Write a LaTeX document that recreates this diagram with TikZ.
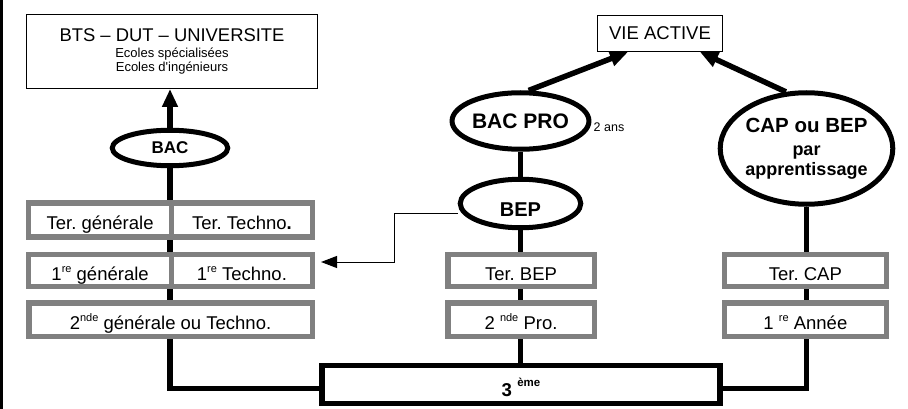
\documentclass[tikz,border=0pt]{standalone}
\usepackage{fontspec}
\setmainfont{Liberation Sans}
\usetikzlibrary{shapes.geometric,arrows.meta,calc}
\definecolor{boxgray}{RGB}{128,128,128}
\pgfdeclarelayer{bg}
\pgfsetlayers{bg,main}
\frenchspacing
\newcommand\supx[2][7.5pt]{\raisebox{#1}{\fontsize{11}{11}\selectfont #2}}
\tikzset{
  grayb/.style={draw=boxgray, line width=5.5pt, fill=white, inner sep=0pt,
    text height=19pt, text depth=0pt, font=\fontsize{18.5}{20}\selectfont},
  ovalb/.style={ellipse, draw, line width=5pt, fill=white, inner sep=0pt,
    font=\bfseries\fontsize{20}{22}\selectfont},
  thinb/.style={draw, line width=1pt, fill=white, inner sep=0pt},
  conn/.style={line width=5.5pt},
  bigarrow/.style={line width=5.5pt, -{Triangle[length=18pt,width=15pt]}},
  smallarrow/.style={line width=1pt, -{Triangle[length=16pt,width=12pt]}},
}
\begin{document}
\begin{tikzpicture}[x=1pt,y=-1pt]
\useasboundingbox (0,0) rectangle (908,409);
\draw[line width=3pt] (1.5,0) -- (1.5,409);

\node[thinb, minimum width=291pt, minimum height=74pt, align=center,
  font=\fontsize{13}{14}\selectfont] (bts) at (172,51.5)
  {{\fontsize{18.4}{20}\selectfont BTS – DUT – UNIVERSITE}\\[2pt]
   Ecoles spécialisées\\ Ecoles d\textquotesingle ingénieurs};
\node[thinb, minimum width=125pt, minimum height=36pt,
  font=\fontsize{18.5}{20}\selectfont] (vie) at (660,33.5) {VIE ACTIVE};

\node[ovalb, minimum width=115.5pt, minimum height=35.5pt,
  font=\bfseries\fontsize{17}{20}\selectfont] (bac) at (170,148) {BAC};
\node[ovalb, minimum width=120.5pt, minimum height=56.5pt,
  font=\bfseries\fontsize{21}{24}\selectfont] (bacpro) at (520.5,121) {BAC PRO};
\node[ovalb, minimum width=120.5pt, minimum height=48.5pt,
  text height=26.4pt, text depth=0pt] (bep) at (520.5,203.5) {BEP};
\node[ovalb, minimum width=156.5pt, minimum height=111.5pt, align=center,
  font=\bfseries\fontsize{18}{20}\selectfont] (cap) at (806.5,148.5)
  {{\fontsize{20.5}{23}\selectfont CAP ou BEP}\\[3pt] par\\ apprentissage};
\node[inner sep=0pt, font=\fontsize{12.5}{14}\selectfont] (ans) at (609,127) {2 ans};

\node[grayb, minimum width=142.75pt, minimum height=34pt] (terg) at (100.1,220) {Ter. générale};
\node[grayb, minimum width=140.75pt, minimum height=34pt] (tert) at (241.9,220) {Ter. Techno\textbf{.}};
\node[grayb, minimum width=142.75pt, minimum height=32pt] (premg) at (100.1,270.5) {1\supx{re} générale};
\node[grayb, minimum width=140.75pt, minimum height=32pt] (premt) at (241.9,270.5) {1\supx{re} Techno.};
\node[grayb, minimum width=283.5pt, minimum height=33.5pt] (sec) at (170.5,319.6) {2\supx{nde} générale ou Techno.};
\node[grayb, minimum width=146.5pt, minimum height=32pt] (terbep) at (521,270.5) {Ter. BEP};
\node[grayb, minimum width=146.5pt, minimum height=33.5pt] (secpro) at (521,319.6) {2 \supx{nde} Pro.};
\node[grayb, minimum width=161.75pt, minimum height=32pt] (tercap) at (805.4,270.5) {Ter. CAP};
\node[grayb, minimum width=161.75pt, minimum height=33.5pt] (annee) at (805.4,319.6) {1 \supx{re} Année};

\node[draw, line width=5.5pt, fill=white, minimum width=398pt, minimum height=37.75pt,
  inner sep=0pt, text height=24.6pt, text depth=0pt,
  font=\bfseries\fontsize{18.6}{20}\selectfont] (trois) at (521,384.4)
  {3 \supx[10pt]{\bfseries\fontsize{11.5}{12}\selectfont ème}};

\begin{pgfonlayer}{bg}
\draw[bigarrow] (bac.north) -- (bac.north |- bts.south);
\draw[conn] (bac.south) |- ([yshift=-4pt]trois.west);
\draw[conn] (cap.south) |- ([yshift=-4pt]trois.east);
\draw[conn] (bacpro.south) -- (bep.north);
\draw[conn] (bep.south) -- (bep.south |- trois.north);
\draw[bigarrow] (bacpro.75) -- ([xshift=31pt]vie.south west);
\draw[bigarrow] (cap.110) -- ([xshift=-23pt]vie.south east);
\draw[smallarrow] ([yshift=-9.5pt]bep.west) -| (394,262) -- ([xshift=6pt,yshift=8.5pt]premt.east);
\end{pgfonlayer}
\end{tikzpicture}
\end{document}
